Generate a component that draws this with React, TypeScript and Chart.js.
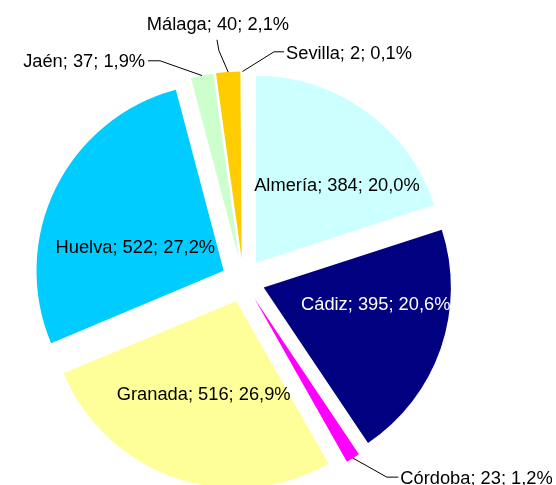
import { useEffect, useRef } from 'react';
import { Chart, registerables } from 'chart.js';

Chart.register(...registerables);

// ---- data ----
const categories = ['Almería', 'Cádiz', 'Córdoba', 'Granada', 'Huelva', 'Jaén', 'Málaga', 'Sevilla'];
const values = [384, 395, 23, 516, 522, 37, 40, 2];
const sliceColors = ['#CCFFFF', '#000080', '#FF00FF', '#FFFF99', '#00CCFF', '#CCFFCC', '#FFCC00', '#FFFFFF'];
const labelColors = ['#000000', '#FFFFFF', '#000000', '#000000', '#000000', '#000000', '#000000', '#000000'];

// ---- layout (not data) ----
const W = 556;
const H = 485;
const CENTER_X = 243.2;
const CENTER_Y = 280.4;
const RADIUS = 187.2;
const EXPLODE = 21.7;
const FONT_SIZE = 18.3;
const FONT = `${FONT_SIZE}px "Liberation Sans", Arial, sans-serif`;

type LabelLayout =
  | { kind: 'inside'; dx: number; dy: number }
  | { kind: 'outside'; elbow: [number, number]; tail: [number, number]; text: [number, number]; align: CanvasTextAlign };

// positions are relative to each slice's exploded apex / outer edge point
const labelLayout: LabelLayout[] = [
  { kind: 'inside', dx: 81, dy: -78.8 },
  { kind: 'inside', dx: 112, dy: 15.5 },
  { kind: 'outside', elbow: [33.8, 19], tail: [11.5, 0], text: [2, 0.5], align: 'left' },
  { kind: 'inside', dx: -32.5, dy: 92.1 },
  { kind: 'inside', dx: -88.4, dy: -24.1 },
  { kind: 'outside', elbow: [-42, -14.8], tail: [-12, 0], text: [-3, 0], align: 'right' },
  { kind: 'outside', elbow: [-9.2, -21.3], tail: [-2, -11], text: [1, -16.3], align: 'center' },
  { kind: 'outside', elbow: [31.5, -19.7], tail: [10, 0], text: [2, 0.8], align: 'left' },
];

const total = values.reduce((a, b) => a + b, 0);
const pctText = (v: number) => ((v / total) * 100).toFixed(1).replace('.', ',') + '%';

const explodePlugin = {
  id: 'explodeSlices',
  afterDatasetUpdate(_chart: any, args: any) {
    const meta = args.meta;
    meta.data.forEach((arc: any) => {
      const half = (arc.startAngle + arc.endAngle) / 2;
      arc.x = arc.x + Math.cos(half) * EXPLODE;
      arc.y = arc.y + Math.sin(half) * EXPLODE;
    });
  },
};

const labelPlugin = {
  id: 'sliceLabels',
  afterDatasetsDraw(chart: any) {
    const ctx: CanvasRenderingContext2D = chart.ctx;
    const meta = chart.getDatasetMeta(0);
    ctx.save();
    ctx.font = FONT;
    ctx.textBaseline = 'alphabetic';
    const capHalf = (0.716 * FONT_SIZE) / 2;
    meta.data.forEach((arc: any, i: number) => {
      const lay = labelLayout[i];
      const text = `${categories[i]}; ${values[i]}; ${pctText(values[i])}`;
      ctx.fillStyle = labelColors[i];
      if (lay.kind === 'inside') {
        ctx.textAlign = 'center';
        ctx.fillText(text, arc.x + lay.dx, arc.y + lay.dy + capHalf);
      } else {
        const half = (arc.startAngle + arc.endAngle) / 2;
        const ox = arc.x + Math.cos(half) * arc.outerRadius;
        const oy = arc.y + Math.sin(half) * arc.outerRadius;
        const ex = ox + lay.elbow[0];
        const ey = oy + lay.elbow[1];
        const tx = ex + lay.tail[0];
        const ty = ey + lay.tail[1];
        ctx.beginPath();
        ctx.moveTo(ox, oy);
        ctx.lineTo(ex, ey);
        ctx.lineTo(tx, ty);
        ctx.strokeStyle = '#000000';
        ctx.lineWidth = 1;
        ctx.stroke();
        ctx.textAlign = lay.align;
        ctx.fillStyle = '#000000';
        ctx.fillText(text, tx + lay.text[0], ty + lay.text[1] + capHalf);
      }
    });
    ctx.restore();
  },
};

export default function App() {
  const canvasRef = useRef<HTMLCanvasElement | null>(null);

  useEffect(() => {
    document.body.style.margin = '0';
    const canvas = canvasRef.current;
    if (!canvas) return;
    const chart = new Chart(canvas, {
      type: 'pie',
      data: {
        labels: categories,
        datasets: [
          {
            data: values,
            backgroundColor: sliceColors,
            borderWidth: 0,
            radius: RADIUS,
          } as any,
        ],
      },
      options: {
        responsive: false,
        animation: false,
        events: [],
        layout: {
          padding: {
            left: 0,
            right: W - 2 * CENTER_X,
            top: 2 * CENTER_Y - H,
            bottom: 0,
          },
        },
        plugins: {
          legend: { display: false },
          tooltip: { enabled: false },
        },
      },
      plugins: [explodePlugin, labelPlugin],
    });
    return () => chart.destroy();
  }, []);

  return (
    <div style={{ width: W, height: H, background: '#ffffff' }}>
      <canvas ref={canvasRef} width={W} height={H} style={{ display: 'block', width: W, height: H }} />
    </div>
  );
}
